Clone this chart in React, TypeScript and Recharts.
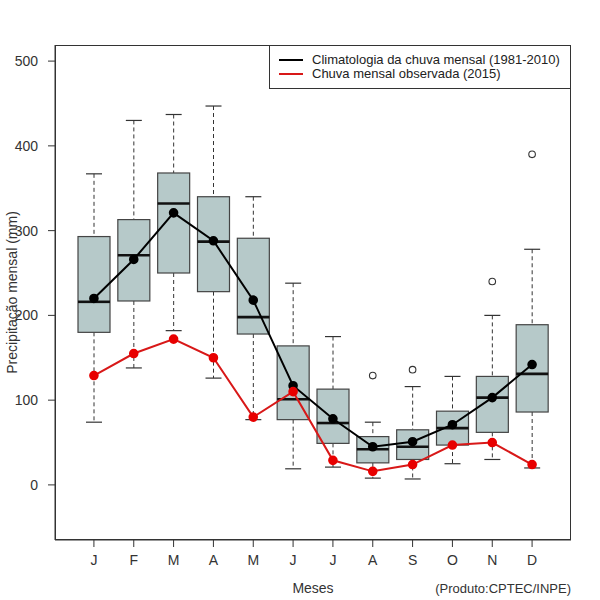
import React from 'react';
import { ComposedChart, Bar, Line, XAxis, YAxis } from 'recharts';

const FONT = '"Liberation Sans", Arial, sans-serif';

// Meses (J..D) e estatísticas do boxplot 1981-2010
const meses = ['J', 'F', 'M', 'A', 'M', 'J', 'J', 'A', 'S', 'O', 'N', 'D'];
const bigodeInf = [74, 138, 182, 126, 77, 19, 21, 8, 7, 25, 30, 20];
const quartil1 = [180, 217, 250, 228, 178, 77, 49, 26, 30, 47, 62, 86];
const mediana = [216, 271, 332, 287, 198, 101, 73, 42, 45, 67, 103, 131];
const quartil3 = [293, 313, 368, 340, 291, 164, 113, 57, 65, 87, 128, 189];
const bigodeSup = [367, 430, 437, 447, 340, 238, 175, 74, 116, 128, 200, 278];
const outliers = [null, null, null, null, null, null, null, 129, 136, null, 240, 390];

// Linhas
const climatologia = [220, 266, 321, 288, 218, 117, 78, 45, 51, 71, 103, 142];
const observada2015 = [129, 155, 172, 150, 80, 110, 29, 16, 24, 47, 50, 24];

const yTicks = [0, 100, 200, 300, 400, 500];

const data = meses.map((m, i) => ({
  i: i + 1,
  lo: bigodeInf[i],
  q1: quartil1[i],
  med: mediana[i],
  q3: quartil3[i],
  hi: bigodeSup[i],
  out: outliers[i],
  clim: climatologia[i],
  obs: observada2015[i],
}));

const M = { top: 45, right: 29, bottom: 30, left: 0 };
const Y_W = 55;
const X_H = 30;

const BoxShape = (props: any) => {
  const { x, y, width, height, payload } = props;
  const top = Math.min(y, y + height);
  const h = Math.abs(height);
  const { lo, q1, med, q3, hi } = payload;
  const k = h / (hi - lo);
  const yv = (v: number) => top + (hi - v) * k;
  const cx = x + width / 2;
  const cap = width / 4;
  return (
    <g>
      <line x1={cx} x2={cx} y1={yv(hi)} y2={yv(q3)} stroke="#333" strokeDasharray="4 3" />
      <line x1={cx} x2={cx} y1={yv(q1)} y2={yv(lo)} stroke="#333" strokeDasharray="4 3" />
      <line x1={cx - cap} x2={cx + cap} y1={yv(hi)} y2={yv(hi)} stroke="#333" strokeWidth={1.2} />
      <line x1={cx - cap} x2={cx + cap} y1={yv(lo)} y2={yv(lo)} stroke="#333" strokeWidth={1.2} />
      <rect x={x} y={yv(q3)} width={width} height={yv(q1) - yv(q3)} fill="#b6c9c9" stroke="#444" strokeWidth={1.2} />
      <line x1={x} x2={x + width} y1={yv(med)} y2={yv(med)} stroke="#111" strokeWidth={2.6} />
    </g>
  );
};

const OutlierDot = (props: any) => {
  const { cx, cy, payload, index } = props;
  if (payload == null || payload.out == null) return <g key={index} />;
  return <circle key={index} cx={cx} cy={cy} r={3.3} fill="#fff" stroke="#333" strokeWidth={1.1} />;
};

const YLabel = ({ viewBox }: any) => {
  const x = viewBox.x + 12;
  const y = viewBox.y + viewBox.height / 2;
  return (
    <text x={x} y={y} transform={`rotate(-90, ${x}, ${y})`} textAnchor="middle" dominantBaseline="central"
      fill="#333" fontSize={14} fontFamily={FONT}>
      Precipitação mensal (mm)
    </text>
  );
};

const XLabel = ({ viewBox }: any) => (
  <g fontFamily={FONT} fill="#333">
    <text x={viewBox.x + viewBox.width / 2} y={viewBox.y + 48} textAnchor="middle" dominantBaseline="central" fontSize={14}>
      Meses
    </text>
    <text x={viewBox.x + viewBox.width} y={viewBox.y + 48} textAnchor="end" dominantBaseline="central" fontSize={13}>
      (Produto:CPTEC/INPE)
    </text>
  </g>
);

const legendRows = [
  { color: '#000', label: 'Climatologia da chuva mensal (1981-2010)' },
  { color: '#d81818', label: 'Chuva mensal observada (2015)' },
];

export default function App() {
  const plotW = 600 - M.left - M.right - Y_W;
  const plotH = 600 - M.top - M.bottom - X_H;
  return (
    <div style={{ position: 'absolute', left: 0, top: 0, width: 600, height: 600, background: '#fff', fontFamily: FONT }}>
      <ComposedChart width={600} height={600} data={data} margin={M}>
        <XAxis
          dataKey="i"
          type="category"
          allowDuplicatedCategory={false}
          padding={{ left: 19, right: 19 }}
          tickFormatter={(v: number) => meses[v - 1]}
          tickSize={7}
          tickMargin={8}
          height={X_H}
          stroke="#333"
          tick={{ fill: '#333', fontSize: 14, fontFamily: FONT }}
          label={<XLabel />}
        />
        <YAxis
          domain={[-65, 519]}
          ticks={yTicks}
          width={Y_W}
          tickSize={7}
          tickMargin={10}
          stroke="#333"
          tick={{ fill: '#333', fontSize: 14, fontFamily: FONT }}
          label={<YLabel />}
        />
        <Bar dataKey={(d: any) => [d.lo, d.hi]} barSize={32} shape={<BoxShape />} isAnimationActive={false} />
        <Line dataKey="clim" stroke="#000" strokeWidth={2} dot={{ r: 3.8, fill: '#000', stroke: '#000' }} isAnimationActive={false} />
        <Line dataKey="obs" stroke="#d81818" strokeWidth={2} dot={{ r: 3.8, fill: '#e80000', stroke: '#e80000' }} isAnimationActive={false} />
        <Line dataKey="out" stroke="none" dot={<OutlierDot />} activeDot={false} isAnimationActive={false} />
      </ComposedChart>
      {/* moldura da área do gráfico */}
      <div style={{ position: 'absolute', left: M.left + Y_W, top: M.top, width: plotW, height: plotH, border: '1px solid #333', boxSizing: 'border-box', pointerEvents: 'none' }} />
      <div style={{ position: 'absolute', left: 269, top: 45, width: 302, height: 44, border: '1px solid #333', boxSizing: 'border-box', background: '#fff' }}>
        {legendRows.map((r, i) => (
          <div key={r.label} style={{ position: 'absolute', left: 9, top: 6 + i * 14, height: 16, display: 'flex', alignItems: 'center', whiteSpace: 'nowrap' }}>
            <span style={{ display: 'inline-block', width: 24, height: 2, background: r.color, marginRight: 9 }} />
            <span style={{ fontSize: 13, color: '#222', lineHeight: '16px' }}>{r.label}</span>
          </div>
        ))}
      </div>
    </div>
  );
}
